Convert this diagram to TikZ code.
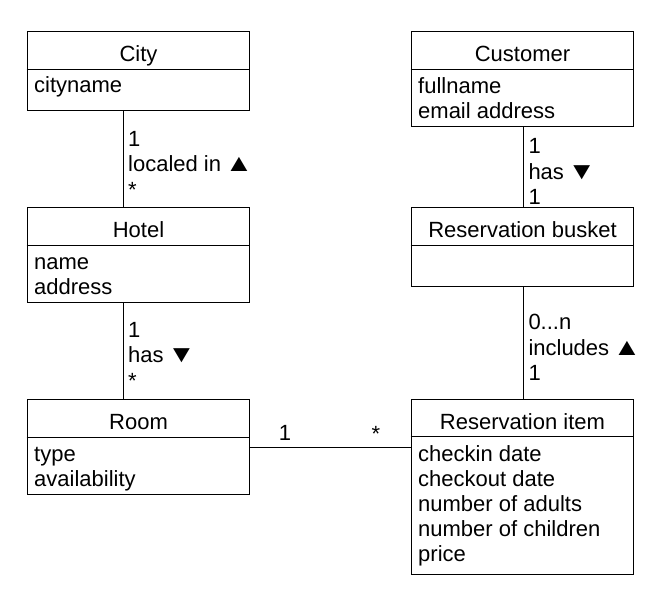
\documentclass[tikz,border=0pt]{standalone}
\usepackage{fontspec}
\usepackage{graphicx}
\setmainfont{Liberation Sans}
\newcommand{\upT}{\kern-2.5pt\scalebox{1.3}[1.1]{▲}}
\newcommand{\dnT}{\kern-2.5pt\scalebox{1.3}[1.1]{▼}}
\begin{document}
\begin{tikzpicture}[x=1pt,y=-1pt,
  cls/.style={draw, line width=1pt, rectangle, inner sep=0pt, minimum width=222.6pt, anchor=north west},
  txt/.style={inner sep=0pt, font=\fontsize{22}{25}\selectfont},
  attr/.style={txt, anchor=base west, align=left},
  ttl/.style={txt, anchor=base},
  conn/.style={line width=1pt},
  lbl/.style={txt, anchor=base west, align=left, font=\fontsize{22}{25.5}\selectfont}]
\useasboundingbox (0,0) rectangle (668,596);
% class boxes
\node[cls, minimum height=78.7pt] (city) at (26.7,31.3) {};
\node[cls, minimum height=94.4pt] (hotel) at (26.7,207.3) {};
\node[cls, minimum height=94.7pt] (room) at (26.7,399.3) {};
\node[cls, minimum height=94.7pt] (customer) at (410.7,31.3) {};
\node[cls, minimum height=78.7pt] (busket) at (410.7,207.3) {};
\node[cls, minimum height=174.7pt] (item) at (410.7,399.3) {};
% dividers
\foreach \b/\d in {city/38, hotel/38.2, room/38, customer/38, busket/38, item/37.4}{
  \draw[line width=1pt] ([yshift=-\d pt]\b.north west) -- ([yshift=-\d pt]\b.north east);
}
% titles
\node[ttl] (cityT) at ([yshift=-30pt]city.north) {City};
\node[ttl] (hotelT) at ([yshift=-30pt]hotel.north) {Hotel};
\node[ttl] (roomT) at ([yshift=-30pt]room.north) {Room};
\node[ttl] (customerT) at ([yshift=-30pt]customer.north) {Customer};
\node[ttl] (busketT) at ([yshift=-30pt]busket.north) {Reservation busket};
\node[ttl] (itemT) at ([yshift=-30pt]item.north) {Reservation item};
% attributes (anchor = baseline of last line)
\node[attr] (cityA) at ([xshift=7.3pt,yshift=-61.4pt]city.north west) {cityname};
\node[attr] (hotelA) at ([xshift=7.3pt,yshift=-86.7pt]hotel.north west) {name\\address};
\node[attr] (roomA) at ([xshift=7.3pt,yshift=-87pt]room.north west) {type\\availability};
\node[attr] (customerA) at ([xshift=7.3pt,yshift=-87pt]customer.north west) {fullname\\email address};
\node[attr] (itemA) at ([xshift=7.3pt,yshift=-162pt]item.north west) {checkin date\\checkout date\\number of adults\\number of children\\price};
% connectors
\draw[conn] ([xshift=-15.3pt]city.south) -- ([xshift=-15.3pt]hotel.north);
\draw[conn] ([xshift=-15.3pt]hotel.south) -- ([xshift=-15.3pt]room.north);
\draw[conn] ([xshift=0.7pt]customer.south) -- ([xshift=0.7pt]busket.north);
\draw[conn] ([xshift=0.7pt]busket.south) -- ([xshift=0.7pt]item.north);
\draw[conn] (room.east) -- (room.east -| item.west);
% association labels (anchor = baseline of last line)
\node[lbl] (l1) at (128,197) {1\\localed in \upT\\*};
\node[lbl] (l2) at (128,388.3) {1\\has \dnT\\*};
\node[lbl] (l3) at (528.3,204.5) {1\\has \dnT\\1};
\node[lbl] (l4) at (528.3,380.5) {0...n\\includes \upT\\1};
\node[txt, anchor=base] (m1) at (285,440.7) {1};
\node[txt, anchor=base] (m2) at (376,441) {*};
\end{tikzpicture}
\end{document}
